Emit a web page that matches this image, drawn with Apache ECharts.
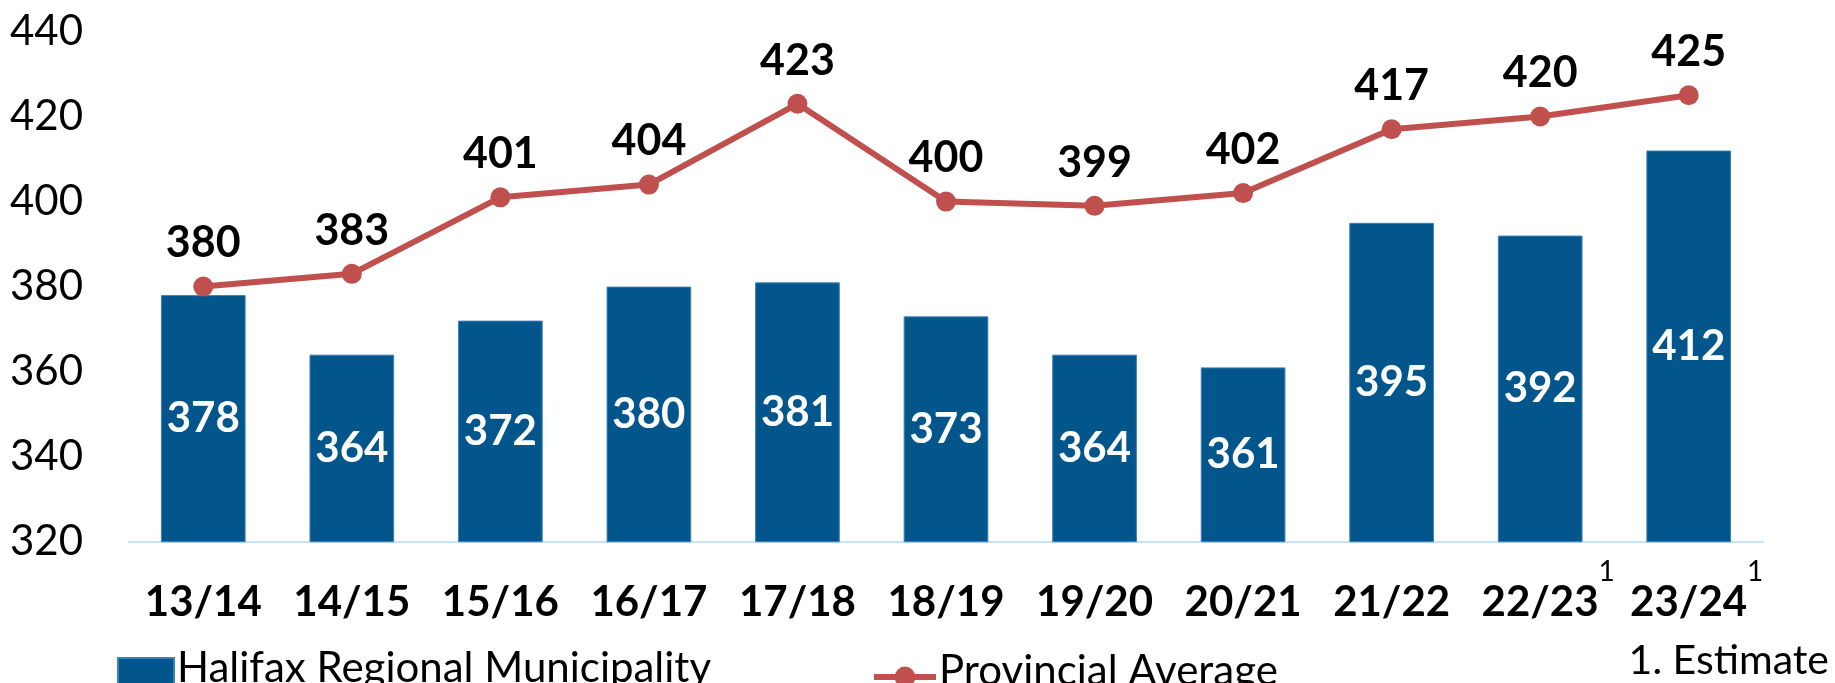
<!DOCTYPE html>
<html>
<head>
<meta charset="utf-8">
<script src="https://cdn.jsdelivr.net/npm/echarts@6/dist/echarts.min.js"></script>
<style>
  html, body { margin: 0; padding: 0; background: #ffffff; }
  #chart { width: 1835px; height: 683px; }
</style>
</head>
<body>
<div id="chart"></div>
<script>
// Fiscal years on the category axis
const years = ['13/14', '14/15', '15/16', '16/17', '17/18', '18/19', '19/20', '20/21', '21/22', '22/23', '23/24'];
// Years whose figures are estimates (footnote 1)
const estimateYears = ['22/23', '23/24'];
// Halifax Regional Municipality values (bars)
const halifax = [378, 364, 372, 380, 381, 373, 364, 361, 395, 392, 412];
// Provincial average values (line)
const provincial = [380, 383, 401, 404, 423, 400, 399, 402, 417, 420, 425];
// Value axis range
const yMin = 320, yMax = 440, yStep = 20;

const FONT = 'Lato';
const BAR_COLOR = '#02568C';
const LINE_COLOR = '#C0504D';

// Legend text is lifted slightly (bottom padding) so it sits level with the swatch
const legendText = {
  fontFamily: FONT, fontSize: 42, color: '#000',
  rich: { t: { fontFamily: FONT, fontSize: 42, color: '#000', lineHeight: 36, padding: [0, 0, 12, -2] } }
};
const legendFormatter = name => `{t|${name}}`;

const chart = echarts.init(document.getElementById('chart'), null, { renderer: 'canvas' });

chart.setOption({
  animation: false,
  backgroundColor: '#ffffff',
  textStyle: { fontFamily: FONT },
  grid: { left: 129, right: 72, top: 31.5, bottom: 141.3, containLabel: false },
  legend: [
    {
      data: [{ name: 'Halifax Regional Municipality', icon: 'rect' }],
      left: 117, top: 647, padding: 0,
      itemWidth: 56, itemHeight: 32, itemGap: 0,
      formatter: legendFormatter,
      textStyle: legendText
    },
    {
      data: ['Provincial Average'],
      left: 871, top: 650, padding: 0,
      itemWidth: 62, itemHeight: 26, itemGap: 0,
      lineStyle: { width: 6 },
      formatter: legendFormatter,
      textStyle: legendText
    }
  ],
  xAxis: {
    type: 'category',
    data: years,
    axisLine: { show: true, lineStyle: { color: '#C6E2F7', width: 2 } },
    axisTick: { show: false },
    axisLabel: {
      margin: 16,
      interval: 0,
      formatter: v => estimateYears.includes(v) ? `{pad|}{b|${v}}{sup|1}` : `{b|${v}}`,
      rich: {
        b: { fontFamily: FONT, fontSize: 42, fontWeight: 'bold', color: '#000', lineHeight: 90 },
        sup: { fontFamily: FONT, fontSize: 28, color: '#000', lineHeight: 22, verticalAlign: 'top' },
        pad: { width: 16 }
      }
    }
  },
  yAxis: {
    type: 'value',
    min: yMin, max: yMax, interval: yStep,
    axisLine: { show: false },
    axisTick: { show: false },
    splitLine: { show: false },
    axisLabel: { margin: 46, fontFamily: FONT, fontSize: 42, color: '#000' }
  },
  series: [
    {
      name: 'Halifax Regional Municipality',
      type: 'bar',
      data: halifax,
      barWidth: '57%',
      itemStyle: { color: BAR_COLOR, borderColor: '#3D7FB8', borderWidth: 1 },
      label: {
        show: true, position: 'inside',
        fontFamily: FONT, fontSize: 42, fontWeight: 'bold', color: '#ffffff'
      },
      z: 2
    },
    {
      name: 'Provincial Average',
      type: 'line',
      data: provincial,
      symbol: 'circle',
      symbolSize: 20,
      lineStyle: { color: LINE_COLOR, width: 6 },
      itemStyle: { color: LINE_COLOR },
      label: {
        show: true, position: 'top', distance: 12,
        fontFamily: FONT, fontSize: 43, fontWeight: 'bold', color: '#000', lineHeight: 42
      },
      z: 3
    }
  ],
  graphic: [
    {
      type: 'text',
      right: 6, top: 640,
      style: { text: '1. Estimate', fontFamily: FONT, fontSize: 41, fill: '#000' }
    }
  ]
});
</script>
</body>
</html>
